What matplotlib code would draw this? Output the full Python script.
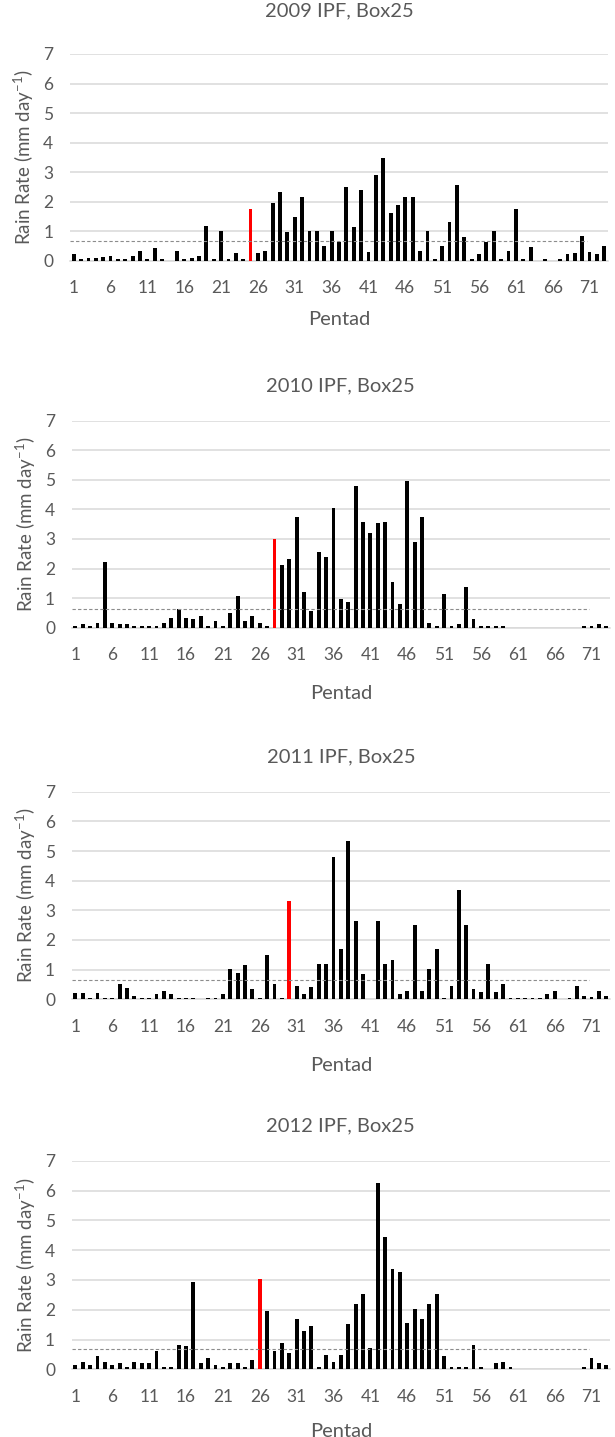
import matplotlib
matplotlib.use("Agg")
import matplotlib.pyplot as plt
import numpy as np

# -------------------------------------------------------------------
# Data: pentad-mean rain rate (mm/day), Box25, one list per year
# -------------------------------------------------------------------
pentads = list(range(1, 74))
tick_pentads = list(range(1, 74, 5))

rain_2009 = [0.21, 0.06, 0.10, 0.10, 0.11, 0.15, 0.06, 0.06, 0.16, 0.33,
             0.06, 0.44, 0.06, 0.00, 0.33, 0.06, 0.10, 0.16, 1.19, 0.06,
             1.02, 0.06, 0.27, 0.06, 1.76, 0.27, 0.34, 1.94, 2.33, 0.97,
             1.47, 2.16, 1.02, 1.02, 0.51, 1.02, 0.63, 2.50, 1.13, 2.39,
             0.28, 2.90, 3.48, 1.60, 1.87, 2.16, 2.16, 0.34, 1.02, 0.06,
             0.51, 1.31, 2.56, 0.79, 0.06, 0.21, 0.63, 1.02, 0.06, 0.34,
             1.76, 0.06, 0.45, 0.00, 0.05, 0.00, 0.05, 0.21, 0.27, 0.85,
             0.28, 0.21, 0.51]

rain_2010 = [0.06, 0.11, 0.06, 0.17, 2.22, 0.17, 0.11, 0.11, 0.06, 0.06,
             0.06, 0.06, 0.17, 0.34, 0.62, 0.34, 0.28, 0.39, 0.06, 0.23,
             0.06, 0.51, 1.07, 0.23, 0.39, 0.17, 0.06, 3.01, 2.11, 2.33,
             3.75, 1.20, 0.57, 2.56, 2.39, 4.05, 0.96, 0.86, 4.78, 3.59,
             3.19, 3.53, 3.59, 1.53, 0.79, 4.96, 2.91, 3.75, 0.17, 0.06,
             1.14, 0.06, 0.11, 1.36, 0.28, 0.06, 0.06, 0.06, 0.06, 0.00,
             0.00, 0.00, 0.00, 0.00, 0.00, 0.00, 0.00, 0.00, 0.00, 0.06,
             0.06, 0.11, 0.06]

rain_2011 = [0.22, 0.22, 0.06, 0.22, 0.06, 0.06, 0.51, 0.39, 0.11, 0.06,
             0.06, 0.17, 0.28, 0.17, 0.06, 0.06, 0.06, 0.00, 0.06, 0.06,
             0.17, 1.03, 0.87, 1.15, 0.34, 0.06, 1.48, 0.52, 0.06, 3.30,
             0.46, 0.18, 0.40, 1.20, 1.20, 4.79, 1.71, 5.35, 2.65, 0.85,
             0.00, 2.65, 1.20, 1.31, 0.18, 0.29, 2.49, 0.29, 1.03, 1.71,
             0.06, 0.46, 3.69, 2.49, 0.35, 0.24, 1.20, 0.24, 0.52, 0.06,
             0.06, 0.06, 0.06, 0.06, 0.18, 0.29, 0.00, 0.06, 0.46, 0.12,
             0.07, 0.29, 0.12]

rain_2012 = [0.15, 0.26, 0.15, 0.44, 0.26, 0.15, 0.20, 0.09, 0.26, 0.20,
             0.20, 0.60, 0.09, 0.09, 0.83, 0.77, 2.93, 0.20, 0.38, 0.15,
             0.09, 0.20, 0.20, 0.09, 0.32, 3.04, 1.97, 0.60, 0.88, 0.55,
             1.68, 1.29, 1.45, 0.09, 0.49, 0.26, 0.49, 1.51, 2.19, 2.53,
             0.72, 6.25, 4.45, 3.38, 3.27, 1.57, 2.01, 1.68, 2.19, 2.53,
             0.44, 0.09, 0.09, 0.09, 0.83, 0.09, 0.00, 0.20, 0.26, 0.09,
             0.00, 0.00, 0.00, 0.00, 0.00, 0.00, 0.00, 0.00, 0.00, 0.09,
             0.38, 0.20, 0.15]

years = ["2009", "2010", "2011", "2012"]
onset_pentad = [25, 28, 30, 26]          # highlighted in red
mean_rate = [0.66, 0.62, 0.64, 0.67]     # dashed reference level

# -------------------------------------------------------------------
# Style
# -------------------------------------------------------------------
TEXT = "#595959"
GRID = "#d9d9d9"
plt.rcParams["font.family"] = ["Lato", "DejaVu Sans"]
plt.rcParams["mathtext.fontset"] = "custom"
plt.rcParams["mathtext.rm"] = "Lato"
plt.rcParams["mathtext.it"] = "Lato"

W, H = 615, 1437
fig = plt.figure(figsize=(W / 100, H / 100), dpi=100)

# axes boxes in pixels: left, top, right, bottom
boxes = [(70, 54, 608, 260.7),
         (71.7, 420.7, 610, 627.7),
         (71.7, 791.7, 610, 999.3),
         (71.7, 1160.7, 610, 1369.3)]
title_pads = [27, 21, 21, 21]
xlabel_pads = [11, 16, 16, 13]

series = [rain_2009, rain_2010, rain_2011, rain_2012]

for i, (year, vals, onset, mean) in enumerate(zip(years, series, onset_pentad, mean_rate)):
    l, t, r, b = boxes[i]
    ax = fig.add_axes([l / W, 1 - b / H, (r - l) / W, (b - t) / H])
    colors = ["red" if p == onset else "black" for p in pentads]
    ax.bar(pentads, vals, width=0.52, color=colors, zorder=3)
    ax.hlines(mean, 0.5, 70.6, colors="#8c8c8c", linestyles=(0, (3, 2)),
              linewidth=0.8, zorder=4)

    ax.set_xlim(0.5, 73.5)
    ax.set_ylim(0, 7)
    ax.set_yticks(range(0, 8))
    ax.set_xticks(tick_pentads)
    ax.yaxis.grid(True, color=GRID, linewidth=1.1, zorder=0)
    ax.set_axisbelow(True)
    for side in ("top", "right", "left"):
        ax.spines[side].set_visible(False)
    ax.spines["bottom"].set_color(GRID)
    ax.spines["bottom"].set_linewidth(1.1)
    ax.tick_params(axis="both", length=0, colors=TEXT, labelsize=12.5)
    ax.tick_params(axis="y", pad=12)
    ax.tick_params(axis="x", pad=14)

    ax.set_title(f"{year} IPF, Box25", color=TEXT, fontsize=14.5, pad=title_pads[i])
    ax.set_xlabel("Pentad", color=TEXT, fontsize=14.5, labelpad=xlabel_pads[i])
    ax.set_ylabel("Rain Rate (mm day$^{-1}$)", color=TEXT, fontsize=13.5, labelpad=5)

fig.savefig("out.png", dpi=100, facecolor="white")
